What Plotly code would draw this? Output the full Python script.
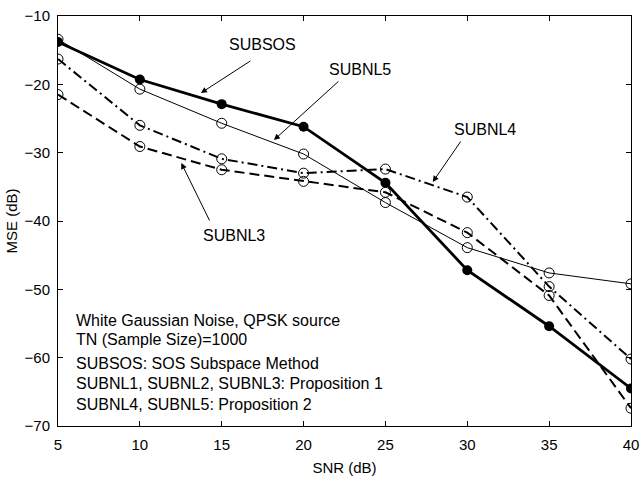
import plotly.graph_objects as go

snr = [5, 10, 15, 20, 25, 30, 35, 40]
subsos = [-13.8, -19.3, -22.9, -26.2, -34.4, -47.2, -55.4, -64.5]
subnl5 = [-13.4, -20.7, -25.7, -30.2, -37.3, -43.9, -47.6, -49.2]
subnl4 = [-16.3, -26.0, -30.9, -33.0, -32.4, -36.5, -49.6, -60.2]
subnl3 = [-21.5, -29.1, -32.5, -34.2, -35.8, -41.7, -50.9, -67.4]

info_lines = [
    "White Gaussian Noise, QPSK source",
    "TN (Sample Size)=1000",
    "SUBSOS: SOS Subspace Method",
    "SUBNL1, SUBNL2, SUBNL3: Proposition 1",
    "SUBNL4, SUBNL5: Proposition 2",
]
info_y = [-54.6, -57.4, -60.9, -63.85, -66.8]

FONT = "Liberation Sans, Arial, sans-serif"

fig = go.Figure()
fig.add_trace(go.Scatter(x=snr, y=subnl3, mode="lines+markers",
                         line=dict(color="black", width=2, dash="10px,5px"),
                         marker=dict(symbol="circle-open", size=10, color="black", line=dict(width=1))))
fig.add_trace(go.Scatter(x=snr, y=subnl4, mode="lines+markers",
                         line=dict(color="black", width=2, dash="10px,4px,2px,4px"),
                         marker=dict(symbol="circle-open", size=10, color="black", line=dict(width=1))))
fig.add_trace(go.Scatter(x=snr, y=subnl5, mode="lines+markers",
                         line=dict(color="black", width=1),
                         marker=dict(symbol="circle-open", size=10, color="black", line=dict(width=1))))
fig.add_trace(go.Scatter(x=snr, y=subsos, mode="lines+markers",
                         line=dict(color="black", width=2.8),
                         marker=dict(symbol="circle", size=10, color="black")))

labels = [
    ("SUBSOS", 17.47, -14.1),
    ("SUBNL5", 23.43, -17.76),
    ("SUBNL4", 31.08, -26.68),
    ("SUBNL3", 15.78, -42.05),
]
for t, x, y in labels:
    fig.add_annotation(x=x, y=y, text=t, showarrow=False,
                       font=dict(family=FONT, size=16, color="black"))

arrows = [
    (13.73, -21.27, 51, -33),
    (18.19, -28.15, 66, -60),
    (27.89, -34.29, 29, -42),
    (12.53, -31.51, 29, 59),
]
for x, y, ax, ay in arrows:
    fig.add_annotation(x=x, y=y, ax=ax, ay=ay, text="", showarrow=True,
                       arrowhead=2, arrowsize=1.2, arrowwidth=1, arrowcolor="black", standoff=0)

for t, y in zip(info_lines, info_y):
    fig.add_annotation(x=5.96, y=y, text=t, showarrow=False, xanchor="left", yanchor="middle",
                       font=dict(family=FONT, size=16, color="black"))

axis_common = dict(showgrid=False, zeroline=False, showline=True, linecolor="black", linewidth=1,
                   mirror="ticks", ticks="inside", ticklen=5, tickcolor="black",
                   ticklabeloverflow="allow",
                   tickfont=dict(family=FONT, size=15, color="black"))

fig.update_layout(
    width=644, height=481,
    margin=dict(l=58, r=5, t=16, b=55),
    plot_bgcolor="white", paper_bgcolor="white",
    showlegend=False,
    xaxis=dict(range=[5, 40], tickvals=snr, ticklabelstandoff=5,
               title=dict(text="SNR (dB)", standoff=10,
                          font=dict(family=FONT, size=15, color="black")), **axis_common),
    yaxis=dict(range=[-70, -10], dtick=10, ticklabelstandoff=4,
               title=dict(text="MSE (dB)", standoff=3,
                          font=dict(family=FONT, size=15, color="black")), **axis_common),
)
fig.write_html("out.html")
